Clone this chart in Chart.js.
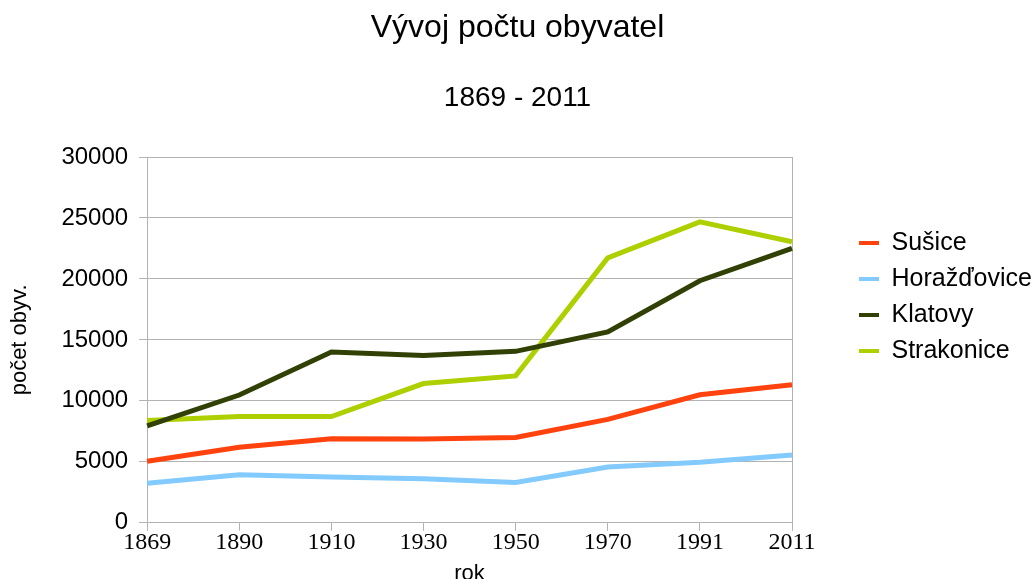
<!DOCTYPE html>
<html>
<head>
<meta charset="utf-8">
<script src="https://cdn.jsdelivr.net/npm/chart.js@4"></script>
<style>
  html, body { margin: 0; padding: 0; background: #fff; }
  #wrap { width: 1035px; height: 579px; }
</style>
</head>
<body>
<div id="wrap"><canvas id="chart-id" width="1035" height="579"></canvas></div>
<script>
const years = ["1869", "1890", "1910", "1930", "1950", "1970", "1991", "2011"];
const susice = [5050, 6200, 6900, 6880, 7000, 8480, 10500, 11330];
const horazdovice = [3250, 3940, 3750, 3610, 3310, 4580, 4960, 5570];
const klatovy = [7940, 10480, 14010, 13730, 14060, 15660, 19850, 22500];
const strakonice = [8380, 8710, 8710, 11420, 12050, 21730, 24680, 23050];
const yTicks = [0, 5000, 10000, 15000, 20000, 25000, 30000];

const gridColor = "#b3b3b3";
const sans = "'Liberation Sans', Arial, sans-serif";
const serif = "'Liberation Serif', 'Times New Roman', serif";

function line(label, data, color) {
  return {
    label: label,
    data: data,
    borderColor: color,
    backgroundColor: color,
    borderWidth: 5,
    pointRadius: 0,
    tension: 0,
    fill: false,
  };
}

const config = {
  type: 'line',
  data: {
    labels: years,
    datasets: [
      line("Sušice", susice, "#ff420e"),
      line("Horažďovice", horazdovice, "#83caff"),
      line("Klatovy", klatovy, "#314004"),
      line("Strakonice", strakonice, "#aecf00"),
    ],
  },
  options: {
    responsive: false,
    animation: false,
    layout: { padding: 0 },
    plugins: {
      title: {
        display: true,
        text: "Vývoj počtu obyvatel",
        color: "#000",
        font: { family: sans, size: 32, weight: 'normal' },
        padding: { top: 9, bottom: 0 },
      },
      subtitle: {
        display: true,
        text: "1869 - 2011",
        color: "#000",
        font: { family: sans, size: 28, weight: 'normal' },
        padding: { top: 34, bottom: 42 },
      },
      legend: {
        position: 'right',
        align: 'center',
        maxWidth: 187,
        title: { display: true, text: ' ', font: { size: 10 }, padding: { top: 3, bottom: 0 } },
        labels: {
          color: "#000",
          font: { family: sans, size: 25 },
          boxWidth: 20,
          boxHeight: 4,
          padding: 11,
          generateLabels: (chart) =>
            Chart.defaults.plugins.legend.labels.generateLabels(chart).map(l => ({
              ...l, lineWidth: 0, fillStyle: l.strokeStyle,
            })),
        },
      },
      tooltip: { enabled: false },
    },
    scales: {
      x: {
        offset: false,
        grid: { drawOnChartArea: false, drawTicks: true, tickLength: 8, color: gridColor },
        border: { display: true, color: gridColor },
        ticks: { color: "#000", font: { family: serif, size: 24 }, padding: -2, maxRotation: 0, autoSkip: false },
        title: {
          display: true,
          text: "rok",
          color: "#000",
          font: { family: sans, size: 22 },
          padding: { top: 5, bottom: -8 },
        },
      },
      y: {
        min: 0,
        max: 30000,
        afterBuildTicks: (scale) => { scale.ticks = yTicks.map(v => ({ value: v })); },
        grid: { color: gridColor, tickLength: 8 },
        border: { display: true, color: gridColor },
        ticks: { color: "#000", font: { family: sans, size: 24 }, padding: 11, callback: (v) => String(v) },
        title: {
          display: true,
          text: "počet obyv.",
          color: "#000",
          font: { family: sans, size: 22 },
          padding: { top: 7, bottom: 17 },
        },
      },
      y2: {
        position: 'right',
        display: true,
        grid: { display: false },
        border: { display: true, color: gridColor },
        ticks: { display: false },
        afterFit: (scale) => { scale.width = 56; },
      },
    },
  },
};

new Chart(document.getElementById('chart-id'), config);
</script>
</body>
</html>
